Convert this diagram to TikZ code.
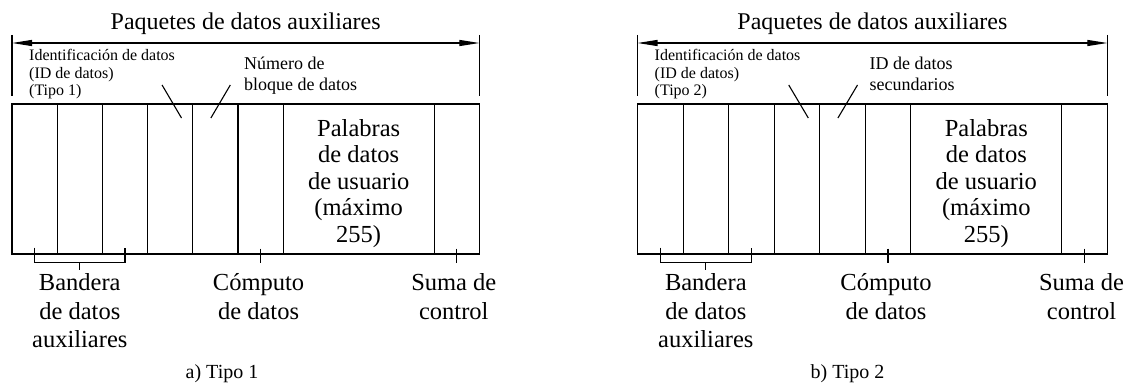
\documentclass[tikz,border=0pt]{standalone}
\usepackage{fontspec}
\setmainfont{Liberation Serif}
\usetikzlibrary{arrows.meta}
\tikzset{
 ln/.style={line width=1.1pt, black},
 cell/.style={draw, line width=1.1pt, inner sep=0pt, minimum height=150pt},
 bigtxt/.style={font=\fontsize{24.5}{28.5}\selectfont, inner sep=0pt, align=center},
 wordtxt/.style={font=\fontsize{24.5}{26.5}\selectfont, inner sep=0pt, align=center},
 smalltxt/.style={font=\fontsize{16}{17.5}\selectfont, inner sep=0pt, align=left},
 midtxt/.style={font=\fontsize{18}{21}\selectfont, inner sep=0pt, align=left},
 captxt/.style={font=\fontsize{20}{24}\selectfont, inner sep=0pt},
 titletxt/.style={font=\fontsize{24}{28}\selectfont, inner sep=0pt},
 spanarrow/.style={line width=1.1pt, {Triangle[length=20pt,width=6pt]}-{Triangle[length=20pt,width=6pt]}},
}
\newcommand\drawpanel[6]{%
 \pgfmathsetmacro\xR{#2+7*#3+151}
 \foreach \i in {1,...,6}{\node[cell, minimum width=#3pt] (c\i#1) at ({#2+(\i-0.5)*#3},179) {};}
 \node[cell, minimum width=151pt] (w#1) at ({#2+6*#3+75.5},179) {};
 \node[cell, minimum width=#3pt] (s#1) at ({#2+6.5*#3+151},179) {};
 % span marks and arrow
 \coordinate (m1#1) at (#2,35); \coordinate (m2#1) at (#2,96);
 \coordinate (m3#1) at (\xR,35); \coordinate (m4#1) at (\xR,96);
 \draw[ln] (m1#1) -- (m2#1);
 \draw[ln] (m3#1) -- (m4#1);
 \coordinate (a1#1) at (#2,43); \coordinate (a2#1) at (\xR,43);
 \draw[spanarrow] (a1#1) -- (a2#1);
 \node[titletxt, anchor=base] (t#1) at ({(#2+\xR)/2},30) {Paquetes de datos auxiliares};
 % upper labels (base anchor = baseline of last line)
 \node[smalltxt, anchor=base west] (id#1) at ({#2+17},96) {Identificación de datos\\(ID de datos)\\(#4)};
 \node[midtxt, anchor=base west] (nb#1) at ({#2+232},91) {#5};
 \coordinate (ta#1) at ({#2+3.32*#3},85); \coordinate (ba#1) at ({#2+3.75*#3},118);
 \coordinate (tb#1) at ({#2+4.83*#3},85); \coordinate (bb#1) at ({#2+4.4*#3},118);
 \draw[ln] (ta#1) -- (ba#1);
 \draw[ln] (tb#1) -- (bb#1);
 % user data words
 \node[wordtxt, anchor=base] (pw#1) at ([yshift=-63pt]w#1.center) {Palabras\\de datos\\de usuario\\(máximo\\255)};
 % bracket and ticks
 \draw[ln] ([yshift=7pt]c1#1.south) -- ([yshift=-8pt]c1#1.south) -- ([yshift=-8pt]c3#1.south) -- ([yshift=7pt]c3#1.south);
 \draw[ln] ([yshift=-8pt]c2#1.south) -- ([yshift=-15pt]c2#1.south);
 \draw[ln] ([yshift=6pt]c6#1.south) -- ([yshift=-8pt]c6#1.south);
 \draw[ln] ([yshift=6pt]s#1.south) -- ([yshift=-8pt]s#1.south);
 % lower labels
 \node[bigtxt, anchor=base] (bd#1) at ([yshift=-93pt]c2#1.south) {Bandera\\de datos\\auxiliares};
 \node[bigtxt, anchor=base] (cp#1) at ([yshift=-64.5pt,xshift=-2pt]c6#1.south) {Cómputo\\de datos};
 \node[bigtxt, anchor=base] (sm#1) at ([yshift=-64.5pt,xshift=-3pt]s#1.south) {Suma de\\control};
 \node[captxt, anchor=base] (cap#1) at ({#2+210},378) {#6};
}
\begin{document}
\begin{tikzpicture}[x=1pt,y=-1pt]
 \fill[white] (0,0) rectangle (1130,385);
 \useasboundingbox (0,0) rectangle (1130,385);
 \drawpanel{a}{12}{45.2}{Tipo 1}{Número de\\bloque de datos}{a) Tipo 1}
 \drawpanel{b}{637.5}{45.55}{Tipo 2}{ID de datos\\secundarios}{b) Tipo 2}
\end{tikzpicture}
\end{document}
